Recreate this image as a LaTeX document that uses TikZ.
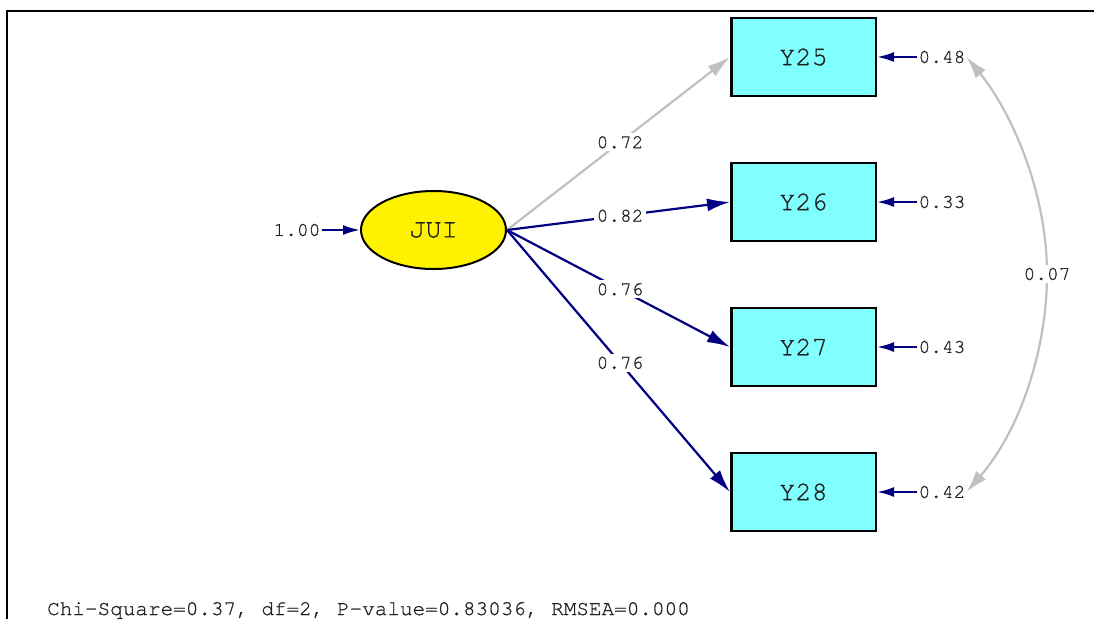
\documentclass[tikz,border=0pt]{standalone}
\usepackage{fontspec}
\setmainfont[FakeBold=0.8]{TeX Gyre Cursor}
\usetikzlibrary{arrows.meta,shapes.geometric}
\definecolor{navyline}{HTML}{000080}
\definecolor{grayline}{HTML}{C0C0C0}
\definecolor{boxcyan}{HTML}{80FFFF}
\definecolor{txt}{HTML}{202020}
\begin{document}
\begin{tikzpicture}[x=1pt,y=-1pt,
  obs/.style={draw=black, line width=2.5pt, fill=boxcyan, minimum width=144.5pt,
    minimum height=78pt, inner sep=0pt, font=\fontsize{27}{28}\selectfont, text=txt},
  lat/.style={ellipse, draw=black, line width=2pt, fill=yellow, minimum width=145pt,
    minimum height=78pt, inner sep=0pt, font=\fontsize{27}{28}\selectfont, text=txt},
  lbl/.style={font=\fontsize{19.5}{20}\selectfont, text=txt, inner sep=1pt},
  wlbl/.style={lbl, fill=white, inner sep=3pt},
  loading/.style={draw=navyline, line width=2.2pt, -{Latex[length=23pt,width=13pt]}},
  gloading/.style={draw=grayline, line width=2.2pt, -{Latex[length=23pt,width=13pt]}},
  err/.style={draw=navyline, line width=2.2pt, -{Latex[length=17pt,width=10pt]}},
  cov/.style={draw=grayline, line width=2.2pt, {Latex[length=22pt,width=13pt]}-{Latex[length=22pt,width=13pt]}},
  frame/.style={draw=black, line width=2.5pt}
]
\useasboundingbox (0,0) rectangle (1094,619);

% outer frame (top and left edges)
\draw[frame] (7,619) -- (7,11) -- (1094,11);

% latent variable and indicators
\node[lat] (JUI) at (433.5,230) {JUI};
\node[obs] (Y25) at (803.5,57)  {Y25};
\node[obs] (Y26) at (803.5,202) {Y26};
\node[obs] (Y27) at (803.5,347) {Y27};
\node[obs] (Y28) at (803.5,492) {Y28};

% variance of the latent variable
\node[lbl] (var) at (297,230) {1.00};
\draw[err] (var.east) -- (JUI.west);

% factor loadings
\draw[gloading] (JUI.east) -- (Y25.west) node[wlbl, pos=0.507] (l25) {0.72};
\draw[loading]  (JUI.east) -- (Y26.west) node[wlbl, pos=0.507] (l26) {0.82};
\draw[loading]  (JUI.east) -- (Y27.west) node[wlbl, pos=0.507] (l27) {0.76};
\draw[loading]  (JUI.east) -- (Y28.west) node[wlbl, pos=0.507] (l28) {0.76};

% error variances
\node[lbl] (e25) at (942,57)  {0.48};
\node[lbl] (e26) at (942,202) {0.33};
\node[lbl] (e27) at (942,347) {0.43};
\node[lbl] (e28) at (942,492) {0.42};
\draw[err] (e25.west) -- (Y25.east);
\draw[err] (e26.west) -- (Y26.east);
\draw[err] (e27.west) -- (Y27.east);
\draw[err] (e28.west) -- (Y28.east);

% error covariance between Y25 and Y28
\coordinate (cm) at (1047,274);
\draw[cov] (e25.east) .. controls (1010,110) and (1047,190) .. (cm)
  .. controls (1047,350) and (1020,430) .. (e28.east);
\node[wlbl] (c2528) at (cm) {0.07};

% fit statistics
\node[anchor=base west, font=\fontsize{21}{24}\selectfont, text=txt, inner sep=0pt] (fit)
  at (47,615) {Chi-Square=0.37, df=2, P-value=0.83036, RMSEA=0.000};
\end{tikzpicture}
\end{document}
